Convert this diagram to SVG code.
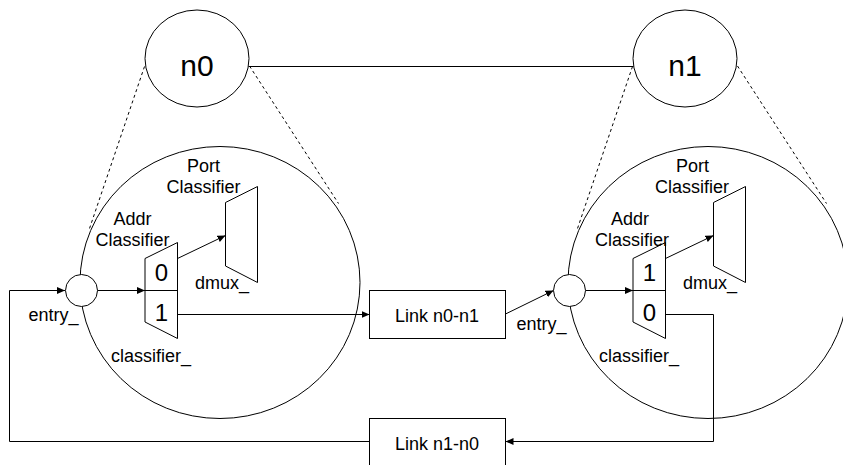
<svg xmlns="http://www.w3.org/2000/svg" width="843" height="465" viewBox="0 0 843 465">
<style>
.s{fill:none;stroke:#000;stroke-width:1}
.w{fill:#fff;stroke:#000;stroke-width:1}
.d{fill:none;stroke:#000;stroke-width:1;stroke-dasharray:3,3}
.t{font-family:"Liberation Sans",Arial,sans-serif;font-size:18px;fill:#000;text-anchor:middle}
.big{font-size:30px}
.dig{font-size:24px}
</style>
<defs>
<marker id="ah" markerUnits="userSpaceOnUse" markerWidth="9" markerHeight="8" refX="8" refY="3.5" orient="auto">
<path d="M0,0 L8,3.5 L0,7 z" fill="#000"/>
</marker>
</defs>
<rect x="0" y="0" width="843" height="465" fill="#fff"/>

<g id="zoom-lines">
<line class="d" x1="144.5" y1="66.5" x2="89" y2="230"/>
<line class="d" x1="249.5" y1="66" x2="338.5" y2="203.5"/>
<line class="d" x1="632.5" y1="66.5" x2="577" y2="230"/>
<line class="d" x1="737.5" y1="66" x2="826.5" y2="203.5"/>
</g>

<g id="node-n0-detail"><ellipse class="s" cx="220" cy="282.5" rx="140" ry="136"/></g>
<g id="node-n1-detail"><ellipse class="s" cx="708" cy="282.5" rx="140" ry="136"/></g>

<g id="node-n0">
<ellipse class="w" cx="197" cy="58.5" rx="52" ry="48.5"/>
<text class="t big" x="197" y="76">n0</text>
</g>
<g id="node-n1">
<ellipse class="w" cx="685" cy="58.5" rx="52" ry="48.5"/>
<text class="t big" x="685" y="76">n1</text>
</g>

<g id="connectors">
<line class="s" x1="248.5" y1="66.5" x2="633.5" y2="66.5"/>
<polyline class="s" points="369.5,441.5 9.5,441.5 9.5,290.5 65,290.5" marker-end="url(#ah)"/>
<line class="s" x1="97.5" y1="290.5" x2="145" y2="290.5" marker-end="url(#ah)"/>
<line class="s" x1="177.5" y1="258.5" x2="225.5" y2="235.5" marker-end="url(#ah)"/>
<line class="s" x1="177.5" y1="314.5" x2="369.5" y2="314.5" marker-end="url(#ah)"/>
<line class="s" x1="505.5" y1="314" x2="553.5" y2="290.5" marker-end="url(#ah)"/>
<line class="s" x1="585.5" y1="290.5" x2="633" y2="290.5" marker-end="url(#ah)"/>
<line class="s" x1="665.5" y1="258.5" x2="713.5" y2="235.5" marker-end="url(#ah)"/>
<polyline class="s" points="665.5,314.5 713.5,314.5 713.5,441.5 505.5,441.5" marker-end="url(#ah)"/>
</g>

<g id="entry-n0">
<circle class="w" cx="81.5" cy="290.5" r="16"/>
<text class="t" x="53.5" y="321">entry_</text>
</g>
<g id="classifier-n0">
<polygon class="w" points="145,258.5 177.5,242.5 177.5,338.5 145,322"/>
<line class="s" x1="145" y1="290.5" x2="177.5" y2="290.5"/>
<text class="t dig" x="161.5" y="280.5">0</text>
<text class="t dig" x="161.5" y="321">1</text>
<text class="t" x="132.5" y="225">Addr</text>
<text class="t" x="132.5" y="246">Classifier</text>
<text class="t" x="151" y="361.5">classifier_</text>
</g>
<g id="dmux-n0">
<polygon class="w" points="225.5,202.5 257.5,186.5 257.5,282.5 225.5,266"/>
<text class="t" x="203.5" y="171.5">Port</text>
<text class="t" x="203.5" y="193">Classifier</text>
<text class="t" x="222" y="288.5">dmux_</text>
</g>

<g id="entry-n1">
<circle class="w" cx="569.5" cy="290.5" r="16"/>
<text class="t" x="541.5" y="330">entry_</text>
</g>
<g id="classifier-n1">
<polygon class="w" points="633,258.5 665.5,242.5 665.5,338.5 633,322"/>
<line class="s" x1="633" y1="290.5" x2="665.5" y2="290.5"/>
<text class="t dig" x="649.5" y="280.5">1</text>
<text class="t dig" x="649.5" y="321">0</text>
<text class="t" x="630" y="225">Addr</text>
<text class="t" x="632" y="246">Classifier</text>
<text class="t" x="639" y="361.5">classifier_</text>
</g>
<g id="dmux-n1">
<polygon class="w" points="713.5,202.5 745.5,186.5 745.5,282.5 713.5,266"/>
<text class="t" x="692.5" y="171.5">Port</text>
<text class="t" x="692" y="193">Classifier</text>
<text class="t" x="710" y="288.5">dmux_</text>
</g>

<g id="link-n0-n1">
<rect class="w" x="369.5" y="290.5" width="136" height="48"/>
<text class="t" x="437" y="322">Link n0-n1</text>
</g>
<g id="link-n1-n0">
<rect class="w" x="369.5" y="418.5" width="136" height="48"/>
<text class="t" x="437" y="450">Link n1-n0</text>
</g>
</svg>
